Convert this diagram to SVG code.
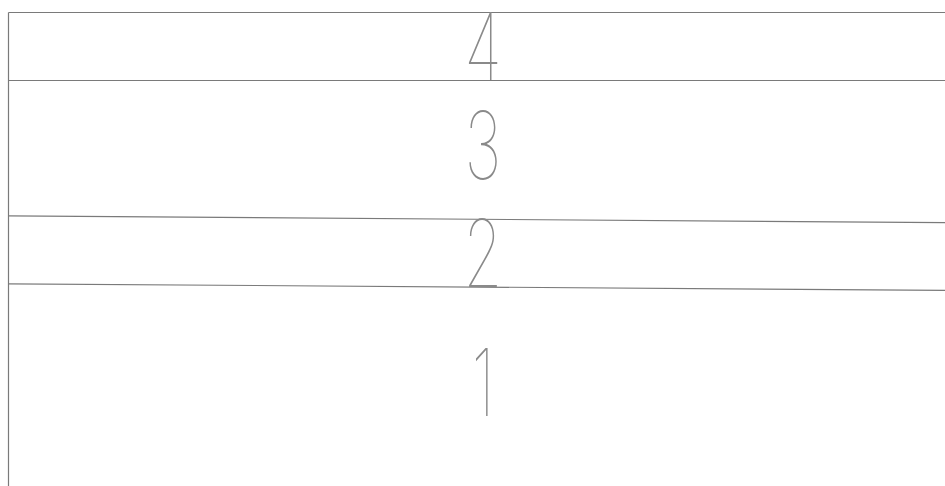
<svg xmlns="http://www.w3.org/2000/svg" width="945" height="486" viewBox="0 0 945 486">
<style>
.ln{stroke:#7a7a7a;stroke-width:1.2;fill:none}
.dg{font-family:Inter,"DejaVu Sans",sans-serif;font-weight:100;font-size:93px;fill:#8a8a8a;text-anchor:middle}
</style>
<rect width="945" height="486" fill="#fff"/>
<g id="lines">
<line class="ln" x1="8.5" y1="12.5" x2="945" y2="12.5"/>
<line class="ln" x1="8.5" y1="12.5" x2="8.5" y2="486"/>
<line class="ln" x1="8.5" y1="80.5" x2="945" y2="80.5"/>
<line class="ln" x1="8.5" y1="215.8" x2="945" y2="222.7"/>
<line class="ln" x1="8.5" y1="283.8" x2="945" y2="290.3"/>
</g>
<g id="labels">
<text class="dg" transform="translate(483,80) scale(0.68,1)">4</text>
<text class="dg" transform="translate(483,179) scale(0.68,1)">3</text>
<text class="dg" transform="translate(483,287) scale(0.68,1)">2</text>
<text class="dg" transform="translate(483,416) scale(0.68,1)">1</text>
</g>
</svg>
